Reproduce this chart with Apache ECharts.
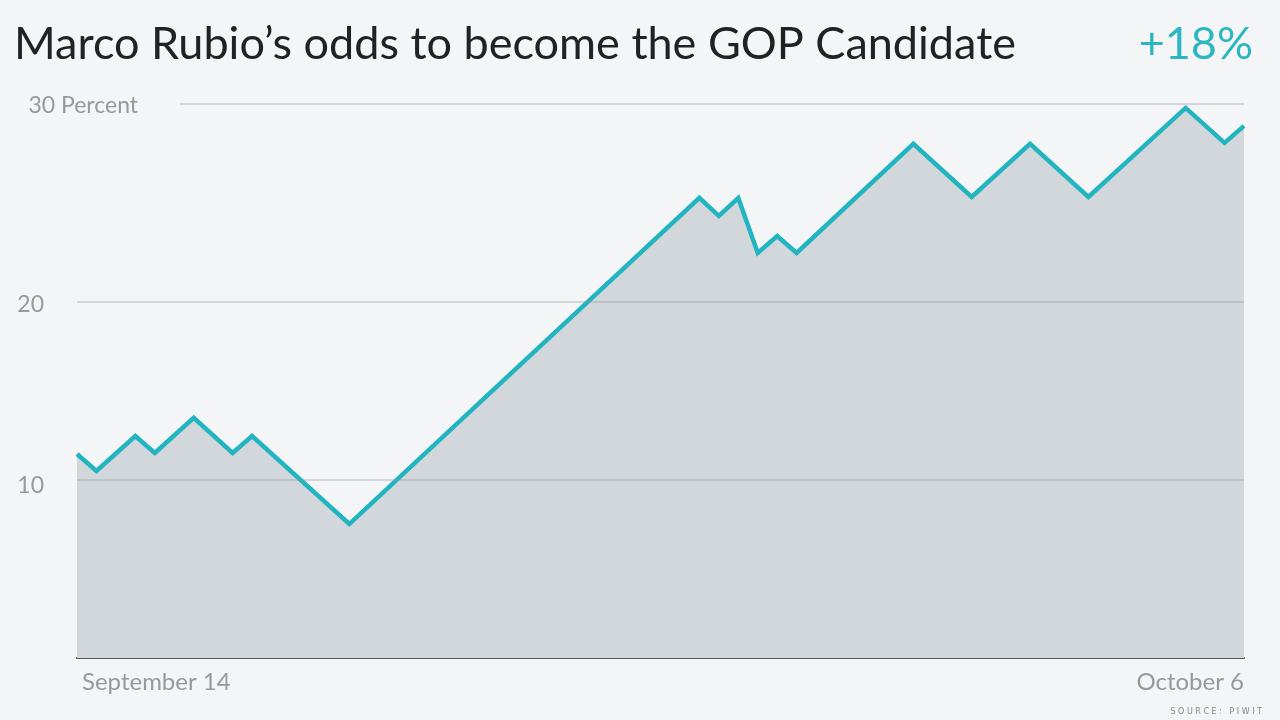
<!DOCTYPE html>
<html>
<head>
<meta charset="utf-8">
<script src="https://cdn.jsdelivr.net/npm/echarts@6/dist/echarts.min.js"></script>
<style>
html,body{margin:0;padding:0;background:#f4f5f7;}
#chart{width:1280px;height:720px;}
</style>
</head>
<body>
<div id="chart"></div>
<script>
// Time steps (0 = September 14, 60 = October 6) at which the line changes direction
var steps = [0, 1, 3, 4, 6, 8, 9, 14, 32, 33, 34, 35, 36, 37, 43, 46, 49, 52, 57, 59, 60];
// Odds (percent) at those steps
var odds = [11.45, 10.5, 12.46, 11.51, 13.48, 11.51, 12.46, 7.52, 25.83, 24.82, 25.83, 22.74, 23.69, 22.74, 28.86, 25.88, 28.86, 25.88, 30.88, 28.92, 29.87];
var xLabels = ['September 14', 'October 6'];
var gridValues = [10, 20, 31.1];
var gridLabels = ['10', '20', '30 Percent'];
var titleText = 'Marco Rubio\u2019s odds to become the GOP Candidate';
var changeText = '+18%';
var sourceText = 'SOURCE: PIWIT';

var data = steps.map(function (s, i) { return [s, odds[i]]; });

var gridColor = 'rgba(140,148,160,0.32)';
var labelShift = [12, 5, 3];
var markData = gridValues.map(function (v, i) {
  var startX = i === 2 ? 5.3 : 0;
  return [
    { coord: [startX, v], label: {
        formatter: '{t|' + gridLabels[i] + '}',
        distance: i === 2 ? 42 : 33,
        rich: { t: { color: '#999', fontFamily: 'Lato', fontSize: 23, padding: [labelShift[i], 0, 0, 0] } }
      } },
    { coord: [60, v] }
  ];
});

var chart = echarts.init(document.getElementById('chart'));
chart.setOption({
  backgroundColor: '#f4f5f7',
  animation: false,
  title: [
    { text: titleText, left: 9, top: 17,
      textStyle: { fontFamily: 'Lato', fontSize: 45, fontWeight: 'normal', color: '#222' } },
    { text: changeText, right: 22, top: 17,
      textStyle: { fontFamily: 'Lato', fontSize: 45, fontWeight: 'normal', color: '#2cb6c2' } }
  ],
  graphic: [{
    type: 'text', right: 18, top: 708,
    style: { text: sourceText.split('').join(' '), font: '8px "DejaVu Sans"', fill: '#888' }
  }],
  grid: { left: 77, right: 36, top: 104, bottom: 62 },
  xAxis: {
    type: 'value', min: 0, max: 60, interval: 60,
    axisLine: { show: true, lineStyle: { color: '#555', width: 2 } },
    axisTick: { show: false },
    splitLine: { show: false },
    axisLabel: {
      margin: 12, color: '#999', fontFamily: 'Lato', fontSize: 24,
      alignMinLabel: 'left', alignMaxLabel: 'right',
      formatter: function (v) { return v === 0 ? '{a|' + xLabels[0] + '}' : xLabels[1]; },
      rich: { a: { padding: [0, 0, 0, 5], color: '#999', fontFamily: 'Lato', fontSize: 24 } }
    }
  },
  yAxis: {
    type: 'value', min: 0, max: 31.1,
    axisLine: { show: false }, axisTick: { show: false },
    axisLabel: { show: false }, splitLine: { show: false }
  },
  series: [{
    type: 'line',
    data: data,
    symbol: 'none',
    lineStyle: { color: '#22b5c1', width: 4.5, join: 'miter' },
    areaStyle: { color: '#d2d7dc', opacity: 1 },
    z: 2,
    markLine: {
      silent: true,
      symbol: 'none',
      z: 3,
      lineStyle: { color: gridColor, width: 2, type: 'solid' },
      label: { position: 'start', color: '#999', fontFamily: 'Lato', fontSize: 23 },
      data: markData
    }
  }]
});
</script>
</body>
</html>
